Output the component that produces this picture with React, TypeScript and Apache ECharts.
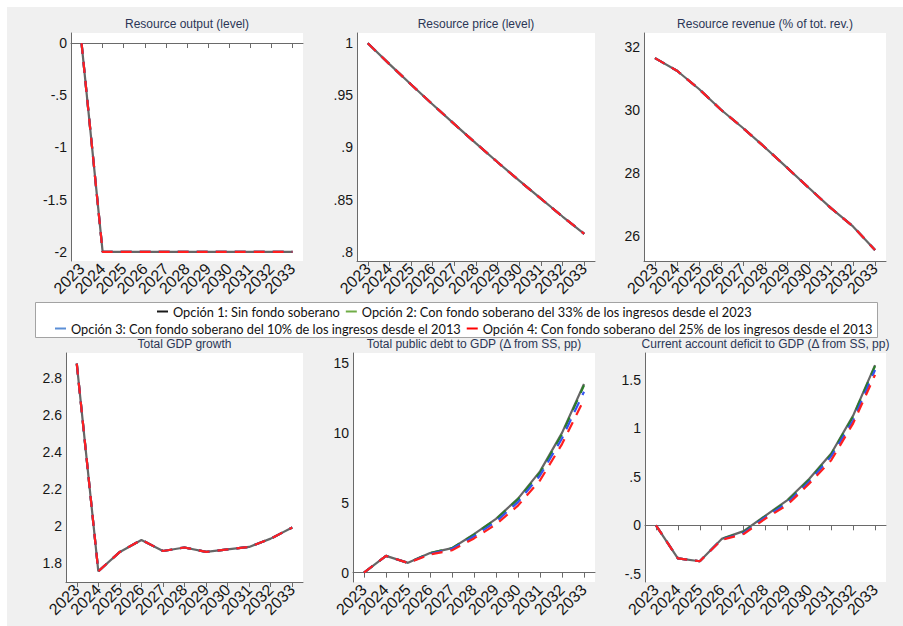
import React, { useEffect, useRef } from 'react';
import * as echarts from 'echarts';

const years = ['2023', '2024', '2025', '2026', '2027', '2028', '2029', '2030', '2031', '2032', '2033'];

const optionNames = [
  'Opción 1: Sin fondo soberano',
  'Opción 2: Con fondo soberano del 33% de los ingresos desde el 2023',
  'Opción 3: Con fondo soberano del 10% de los ingresos desde el 2013',
  'Opción 4: Con fondo soberano del 25% de los ingresos desde el 2013',
];

const resourceOutput = [0, -2, -2, -2, -2, -2, -2, -2, -2, -2, -2];
const resourcePrice = [1, 0.98, 0.9604, 0.9412, 0.9224, 0.9039, 0.8858, 0.8681, 0.8508, 0.8337, 0.8171];
const resourceRevenue = [31.64, 31.24, 30.66, 30.0, 29.42, 28.8, 28.16, 27.51, 26.87, 26.29, 25.54];
const gdpGrowth = [2.878, 1.753, 1.858, 1.923, 1.863, 1.882, 1.858, 1.872, 1.885, 1.93, 1.99];

const debtOp1 = [0, 1.2, 0.7, 1.4, 1.75, 2.75, 3.85, 5.3, 7.25, 10.0, 13.5];
const debtOp2 = [0, 1.2, 0.7, 1.4, 1.75, 2.72, 3.82, 5.25, 7.15, 9.9, 13.4];
const debtOp3 = [0, 1.2, 0.7, 1.35, 1.7, 2.6, 3.65, 5.05, 6.95, 9.6, 12.95];
const debtOp4 = [0, 1.2, 0.7, 1.3, 1.6, 2.45, 3.45, 4.8, 6.6, 9.2, 12.4];

const cadOp1 = [0, -0.34, -0.37, -0.14, -0.06, 0.1, 0.26, 0.48, 0.74, 1.13, 1.65];
const cadOp2 = [0, -0.34, -0.37, -0.14, -0.07, 0.095, 0.25, 0.47, 0.73, 1.12, 1.64];
const cadOp3 = [0, -0.34, -0.37, -0.145, -0.08, 0.085, 0.23, 0.45, 0.71, 1.08, 1.6];
const cadOp4 = [0, -0.34, -0.37, -0.15, -0.09, 0.07, 0.21, 0.43, 0.67, 1.05, 1.55];

const ticksOutput = [-2, -1.5, -1, -0.5, 0];
const ticksPrice = [0.8, 0.85, 0.9, 0.95, 1];
const ticksRevenue = [26, 28, 30, 32];
const ticksGdp = [1.8, 2, 2.2, 2.4, 2.6, 2.8];
const ticksDebt = [0, 5, 10, 15];
const ticksCad = [-0.5, 0, 0.5, 1, 1.5];

const panels = [
  { title: 'Resource output (level)', left: 71, top: 33, width: 232, height: 228, min: -2.087, max: 0.096, ticks: ticksOutput, data: [resourceOutput, resourceOutput, resourceOutput, resourceOutput] },
  { title: 'Resource price (level)', left: 357, top: 33, width: 238, height: 228, min: 0.791, max: 1.0099, ticks: ticksPrice, data: [resourcePrice, resourcePrice, resourcePrice, resourcePrice] },
  { title: 'Resource revenue (% of tot. rev.)', left: 644, top: 33, width: 242, height: 228, min: 25.19, max: 32.44, ticks: ticksRevenue, data: [resourceRevenue, resourceRevenue, resourceRevenue, resourceRevenue] },
  { title: 'Total GDP growth', left: 66, top: 353, width: 237, height: 229, min: 1.695, max: 2.936, ticks: ticksGdp, data: [gdpGrowth, gdpGrowth, gdpGrowth, gdpGrowth] },
  { title: 'Total public debt to GDP (Δ from SS, pp)', left: 353, top: 353, width: 242, height: 229, min: -0.67, max: 15.72, ticks: ticksDebt, data: [debtOp1, debtOp2, debtOp3, debtOp4] },
  { title: 'Current account deficit to GDP (Δ from SS, pp)', left: 645, top: 353, width: 241, height: 229, min: -0.584, max: 1.775, ticks: ticksCad, data: [cadOp1, cadOp2, cadOp3, cadOp4] },
];

const lineColors = ['#666666', '#2a7d2a', '#3454f0', '#ff1f1f'];
const legendColors = ['#1a1a1a', '#70ad47', '#5b8fd6', '#ff0000'];

const fmt = (v: number) => {
  let s = String(Math.round(v * 1000) / 1000);
  if (s.startsWith('0.')) s = s.slice(1);
  else if (s.startsWith('-0.')) s = '-' + s.slice(2);
  return s;
};

const axisFont = '"Liberation Sans", Arial, sans-serif';

export default function App() {
  const ref = useRef<HTMLDivElement>(null);
  useEffect(() => {
    if (!ref.current) return;
    const chart = echarts.init(ref.current, undefined, { renderer: 'svg' });
    const grid = panels.map((p) => ({
      left: p.left, top: p.top, width: p.width, height: p.height,
      show: true, backgroundColor: '#ffffff', borderWidth: 0,
      outerBoundsMode: 'none',
    }));
    const xAxis = panels.map((p, i) => ({
      type: 'category', gridIndex: i, data: years, boundaryGap: true,
      axisLine: { show: true, lineStyle: { color: '#6a6a6a', width: 1 } },
      axisTick: { show: true, alignWithLabel: true, length: 5, lineStyle: { color: '#6a6a6a' } },
      axisLabel: {
        interval: 0, rotate: 45, margin: 5, fontSize: 16, color: '#161616', fontFamily: axisFont,
        overflow: 'none', width: 200, hideOverlap: false,
      },
      splitLine: { show: false },
    }));
    const yAxis = panels.map((p, i) => ({
      type: 'value', gridIndex: i, min: p.min, max: p.max,
      axisLine: { show: true, onZero: false, lineStyle: { color: '#6a6a6a', width: 1 } },
      axisTick: { show: false },
      splitLine: { show: false },
      axisLabel: { customValues: p.ticks, formatter: (v: number) => fmt(v), margin: 4, fontSize: 14, color: '#161616', fontFamily: axisFont },
    }));
    const series: any[] = [];
    panels.forEach((p, i) => {
      p.data.forEach((d, k) => {
        series.push({
          type: 'line', name: optionNames[k], xAxisIndex: i, yAxisIndex: i, data: d,
          symbol: 'none', showSymbol: false, silent: true, z: 2 + k,
          itemStyle: { color: lineColors[k] },
          lineStyle: { color: lineColors[k], width: 2.2, type: k === 0 ? 'solid' : [11, 8] },
        });
      });
    });
    const legendBase = {
      icon: 'rect', itemWidth: 11, itemHeight: 2, itemGap: 6, selectedMode: false,
      padding: 0,
      textStyle: { fontFamily: 'Lato, "Noto Sans", sans-serif', fontSize: 12.8, color: '#111' },
    };
    const legend = [
      { ...legendBase, top: 305, left: 157, data: [0, 1].map((k) => ({ name: optionNames[k], itemStyle: { color: legendColors[k] } })) },
      { ...legendBase, top: 322, left: 55, data: [2, 3].map((k) => ({ name: optionNames[k], itemStyle: { color: legendColors[k] } })) },
    ];
    const graphic: any[] = [
      { type: 'rect', z: -10, silent: true, shape: { x: 7, y: 7, width: 896, height: 619 }, style: { fill: '#f0f0f0' } },
      { type: 'rect', z: 1, silent: true, shape: { x: 35.5, y: 302.5, width: 842, height: 35 }, style: { fill: '#ffffff', stroke: '#a3a3a3', lineWidth: 1 } },
      ...panels.map((p) => ({
        type: 'text', silent: true, x: p.left + p.width / 2, y: p.top < 100 ? 24 : 344,
        style: { text: p.title, textAlign: 'center', textVerticalAlign: 'middle', font: '12px "Liberation Sans", Arial, sans-serif', fill: '#2b3656' },
      })),
    ];
    chart.setOption({
      animation: false,
      backgroundColor: '#ffffff',
      grid, xAxis, yAxis, series, legend, graphic,
    });
    return () => chart.dispose();
  }, []);
  return <div ref={ref} style={{ position: 'absolute', left: 0, top: 0, width: 903, height: 626 }} />;
}
